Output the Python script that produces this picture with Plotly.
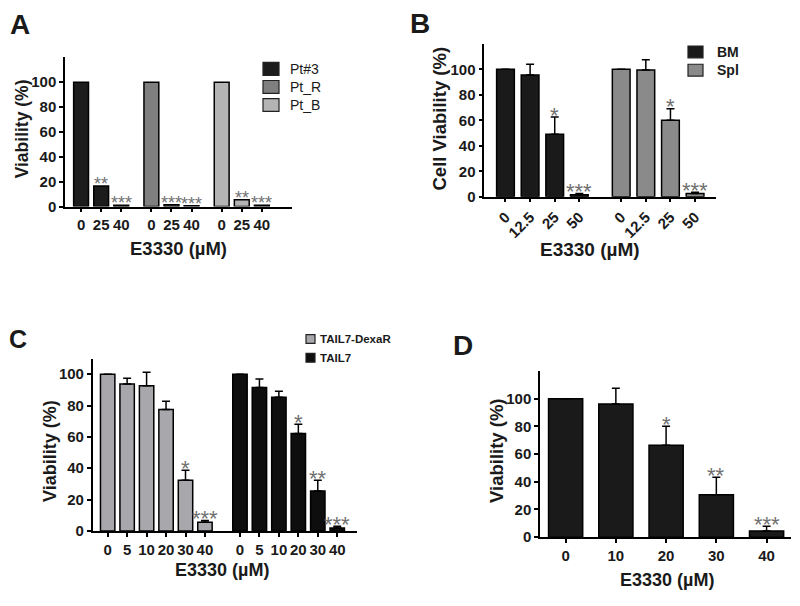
"""Viability bar charts, four panels (A-D)."""
import plotly.graph_objects as go

# ---- data -------------------------------------------------------------
# Panel A
a_doses = ["0", "25", "40"]
a_groups = ["Pt#3", "Pt_R", "Pt_B"]
a_values = [[100, 16.5, 1.0], [100, 1.5, 0.6], [100, 5.5, 1.0]]
a_stars = [["", "**", "***"], ["", "***", "***"], ["", "**", "***"]]

# Panel B
b_doses = ["0", "12.5", "25", "50"]
b_groups = ["BM", "Spl"]
b_values = [[100, 95.5, 49, 1.5], [100, 99.5, 60, 2.5]]
b_errors = [[0, 8.5, 13.5, 1.0], [0, 8.0, 9.0, 1.0]]
b_stars = [["", "", "*", "***"], ["", "", "*", "***"]]

# Panel C
c_doses = ["0", "5", "10", "20", "30", "40"]
c_groups = ["TAIL7-DexaR", "TAIL7"]
c_values = [[100, 93.7, 92.6, 77.5, 32.4, 5.5], [100, 91.6, 85.3, 62.2, 25.4, 1.9]]
c_errors = [[0, 3.8, 8.7, 5.3, 6.3, 1.2], [0, 5.4, 3.8, 5.8, 7.0, 1.0]]
c_stars = [["", "", "", "", "*", "***"], ["", "", "", "*", "**", "***"]]

# Panel D
d_doses = ["0", "10", "20", "30", "40"]
d_values = [100, 96.2, 66.4, 30.7, 4.5]
d_errors = [0, 11.4, 13.7, 12.6, 3.3]
d_stars = ["", "", "*", "**", "***"]

# ---- styling ----------------------------------------------------------
FONT = "Liberation Sans, Arial, Helvetica"
INK = "#1a1a1a"
STAR_COLOR = "#707070"
OFF = 8                      # the page body has an 8px margin
W, H = 800 - OFF, 606 - OFF

a_colors = ["#1c1c1c", "#7f7f7f", "#b4b4b4"]
b_colors = ["#1a1a1a", "#8a8a8a"]
c_colors = ["#a8a8ac", "#0e0e0e"]
d_color = "#1a1a1a"


def px_x(px):
    return (px - OFF) / W


def px_y(py):
    return 1 - (py - OFF) / H


fig = go.Figure()
annotations = []
shapes = []


def add_group(xa, ya, xs, vals, errs, color, name, width, stars, star_size=22):
    fig.add_trace(go.Bar(
        x=xs, y=vals, width=width, name=name,
        marker=dict(color=color, line=dict(color="black", width=1.5)),
        error_y=dict(type="data", array=errs, arrayminus=[0] * len(vals),
                     symmetric=False, color="black", thickness=1.5, width=4,
                     visible=errs is not None),
        xaxis=xa, yaxis=ya, showlegend=False,
    ))
    # significance stars above each bar (+ error)
    for x, v, e, s in zip(xs, vals, errs or [0] * len(vals), stars):
        if s:
            annotations.append(dict(
                x=x, y=v + e, xref=xa, yref=ya, text=s, showarrow=False,
                xanchor="center", yanchor="middle", yshift=2,
                font=dict(family=FONT, size=star_size, color=STAR_COLOR)))


# Panel A
a_ticks, a_labels = [], []
for g, (name, vals) in enumerate(zip(a_groups, a_values)):
    xs = [g * 3.5 + i for i in range(len(a_doses))]
    a_ticks += xs
    a_labels += a_doses
    add_group("x", "y", xs, vals, None, a_colors[g], name, 0.74, a_stars[g], 18)

# Panel B
b_ticks, b_labels = [], []
for g, name in enumerate(b_groups):
    xs = [g * 4.7 + i for i in range(len(b_doses))]
    b_ticks += xs
    b_labels += b_doses
    add_group("x2", "y2", xs, b_values[g], b_errors[g], b_colors[g], name, 0.72, b_stars[g])

# Panel C
c_ticks, c_labels = [], []
for g, name in enumerate(c_groups):
    xs = [g * 6.8 + i for i in range(len(c_doses))]
    c_ticks += xs
    c_labels += c_doses
    add_group("x3", "y3", xs, c_values[g], c_errors[g], c_colors[g], name, 0.74, c_stars[g])

# Panel D
d_ticks = list(range(len(d_doses)))
add_group("x4", "y4", d_ticks, d_values, d_errors, d_color, "E3330", 0.68, d_stars)

axis_common = dict(showline=True, linecolor="black", linewidth=1.5, ticks="outside",
                   ticklen=4, tickwidth=1.5, tickcolor="black", showgrid=False,
                   zeroline=False, fixedrange=True,
                   tickfont=dict(family=FONT, size=15, color=INK, weight="bold"))

yticks = [0, 20, 40, 60, 80, 100]


def xaxis(left, right, rng, ticks, labels, anchor, angle=0):
    return dict(axis_common, domain=[px_x(left), px_x(right)], range=rng, tickvals=ticks,
                ticktext=labels, anchor=anchor, tickangle=angle)


def yaxis(top_px, bottom_px, top, anchor):
    return dict(axis_common, domain=[px_y(bottom_px), px_y(top_px)], range=[0, top],
                tickvals=yticks, anchor=anchor)


# axis titles and panel letters (positions in pixels of the 800x606 page)
def label(text, px, py, size, angle=0, bold=True):
    annotations.append(dict(text=text, x=px_x(px), y=px_y(py), xref="paper", yref="paper",
                            showarrow=False, textangle=angle, xanchor="center", yanchor="middle",
                            font=dict(family=FONT, size=size, color=INK,
                                      weight="bold" if bold else "normal")))


def legend_box(names, colors, px, py, step, w, h, dx, size, bold):
    for i, (name, color) in enumerate(zip(names, colors)):
        cy = py + i * step
        shapes.append(dict(type="rect", xref="paper", yref="paper",
                           x0=px_x(px), x1=px_x(px + w),
                           y0=px_y(cy + h / 2), y1=px_y(cy - h / 2),
                           fillcolor=color, line=dict(color="#222", width=1.2)))
        annotations.append(dict(text=name, x=px_x(px + dx), y=px_y(cy),
                                xref="paper", yref="paper", showarrow=False,
                                xanchor="left", yanchor="middle",
                                font=dict(family=FONT, size=size, color=INK,
                                          weight="bold" if bold else "normal")))


label("A", 19.5, 25, 28)
label("B", 420, 24, 28)
label("C", 18, 343.5, 25)
label("D", 463, 350, 28)

label("Viability (%)", 22, 131, 17.5, -90)
label("Cell Viability (%)", 440, 120, 18.5, -90)
label("Viability (%)", 50, 457, 18, -90)
label("Viability (%)", 497, 457, 18.5, -90)

label("E3330 (\u00b5M)", 178, 252, 18.5)
label("E3330 (\u00b5M)", 590, 253, 19)
label("E3330 (\u00b5M)", 222, 578, 18)
label("E3330 (\u00b5M)", 667, 588, 18)

legend_box(a_groups, a_colors, 263, 69.7, 18.3, 16, 13, 25, 14, False)
legend_box(b_groups, b_colors, 688, 52.5, 18.5, 15, 12, 27, 14, True)
legend_box(c_groups, c_colors, 306, 343.5, 19, 9, 9, 12, 11.5, True)

fig.update_layout(
    width=W, height=H,
    margin=dict(l=0, r=0, t=0, b=0),
    paper_bgcolor="white", plot_bgcolor="white",
    barmode="overlay",
    showlegend=False,
    xaxis=xaxis(65, 292, [-0.8, 10.5], a_ticks, a_labels, "y"),
    yaxis=yaxis(58, 209.3, 120, "x"),
    xaxis2=xaxis(484.3, 716, [-0.86, 8.55], b_ticks, b_labels, "y2", -45),
    yaxis2=yaxis(44.3, 199.3, 120, "x2"),
    xaxis3=xaxis(92.7, 356.7, [-0.77, 12.8], c_ticks, c_labels, "y3"),
    yaxis3=yaxis(363.3, 538, 110, "x3"),
    xaxis4=xaxis(540, 790.7, [-0.51, 4.48], d_ticks, d_doses, "y4"),
    yaxis4=yaxis(376, 544.3, 120, "x4"),
    annotations=annotations,
    shapes=shapes,
)

fig.write_html("out.html")
